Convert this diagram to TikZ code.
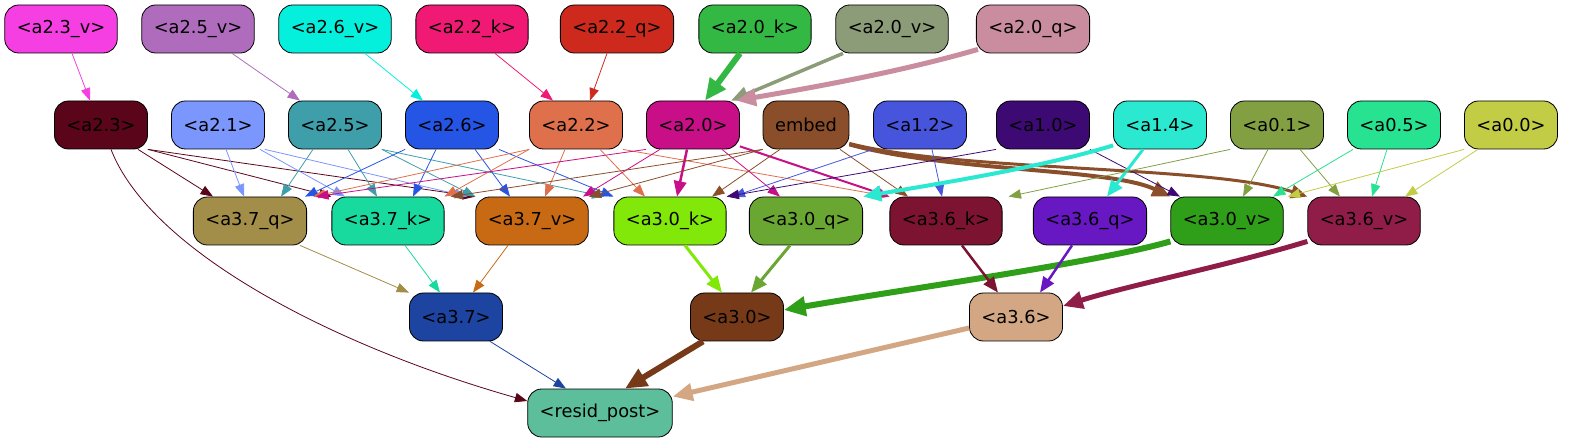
\documentclass[tikz,border=0pt]{standalone}
\usepackage{fontspec}
\setmainfont{DejaVu Sans}
\usepackage{tikz}
\usetikzlibrary{arrows.meta}

\definecolor{c23v}{HTML}{F53FE3}
\definecolor{c25v}{HTML}{B06CBC}
\definecolor{c26v}{HTML}{05F0DC}
\definecolor{c22k}{HTML}{F01A74}
\definecolor{c22q}{HTML}{CD2A1D}
\definecolor{c20k}{HTML}{33B844}
\definecolor{c20v}{HTML}{8C9B78}
\definecolor{c20q}{HTML}{C98D9F}
\definecolor{c23}{HTML}{5A0519}
\definecolor{c21}{HTML}{7B96FC}
\definecolor{c25}{HTML}{3E9EAA}
\definecolor{c26}{HTML}{2555E4}
\definecolor{c22}{HTML}{DF704C}
\definecolor{c20}{HTML}{C80F88}
\definecolor{cemb}{HTML}{8A4E2B}
\definecolor{c12}{HTML}{4755DD}
\definecolor{c10}{HTML}{3D0A74}
\definecolor{c14}{HTML}{2AE9D0}
\definecolor{c01}{HTML}{82A042}
\definecolor{c05}{HTML}{26E291}
\definecolor{c00}{HTML}{C2CC44}
\definecolor{c37q}{HTML}{A28D49}
\definecolor{c37k}{HTML}{18DA9E}
\definecolor{c37v}{HTML}{C86A14}
\definecolor{c30k}{HTML}{82E80A}
\definecolor{c30q}{HTML}{6AA732}
\definecolor{c36k}{HTML}{7C1330}
\definecolor{c36q}{HTML}{6718C3}
\definecolor{c30v}{HTML}{2F9E18}
\definecolor{c36v}{HTML}{8F1D48}
\definecolor{c37}{HTML}{1D44A1}
\definecolor{c30}{HTML}{763A18}
\definecolor{c36}{HTML}{D3A783}
\definecolor{cres}{HTML}{5DBE9B}

\tikzset{
	box/.style={draw=black, line width=0.8pt, rounded corners=14pt, minimum height=48pt, inner xsep=12pt, inner ysep=0pt, font=\fontsize{17.8}{21}\selectfont},
	conn/.style={-{Triangle[length=11pt 1.8,width=8pt 1.8]}, line width=0.8pt}
}

\begin{document}
\begin{tikzpicture}[x=1pt,y=-1pt]
					
					\useasboundingbox (0,0) rectangle (1571,443);
					
					\node[box, fill=c23v] (a23v) at (61,29) {<a2.3\_v>};
					\node[box, fill=c25v] (a25v) at (198,29) {<a2.5\_v>};
					\node[box, fill=c26v] (a26v) at (335,29) {<a2.6\_v>};
					\node[box, fill=c22k] (a22k) at (472,29) {<a2.2\_k>};
					\node[box, fill=c22q] (a22q) at (617,29) {<a2.2\_q>};
					\node[box, fill=c20k] (a20k) at (755,29) {<a2.0\_k>};
					\node[box, fill=c20v] (a20v) at (892,29) {<a2.0\_v>};
					\node[box, fill=c20q] (a20q) at (1033,29) {<a2.0\_q>};
					
					\node[box, fill=c23] (a23) at (101,125) {<a2.3>};
					\node[box, fill=c21] (a21) at (218,125) {<a2.1>};
					\node[box, fill=c25] (a25) at (335,125) {<a2.5>};
					\node[box, fill=c26] (a26) at (452,125) {<a2.6>};
					\node[box, fill=c22] (a22) at (576,125) {<a2.2>};
					\node[box, fill=c20] (a20) at (693,125) {<a2.0>};
					\node[box, fill=cemb] (emb) at (806,125) {embed};
					\node[box, fill=c12] (a12) at (920,125) {<a1.2>};
					\node[box, fill=c10] (a10) at (1043,125) {<a1.0>};
					\node[box, fill=c14] (a14) at (1160,125) {<a1.4>};
					\node[box, fill=c01] (a01) at (1277,125) {<a0.1>};
					\node[box, fill=c05] (a05) at (1394,125) {<a0.5>};
					\node[box, fill=c00] (a00) at (1511,125) {<a0.0>};
					
					\node[box, fill=c37q] (a37q) at (250,221) {<a3.7\_q>};
					\node[box, fill=c37k] (a37k) at (388,221) {<a3.7\_k>};
					\node[box, fill=c37v] (a37v) at (532,221) {<a3.7\_v>};
					\node[box, fill=c30k] (a30k) at (670,221) {<a3.0\_k>};
					\node[box, fill=c30q] (a30q) at (806,221) {<a3.0\_q>};
					\node[box, fill=c36k] (a36k) at (946,221) {<a3.6\_k>};
					\node[box, fill=c36q] (a36q) at (1090,221) {<a3.6\_q>};
					\node[box, fill=c30v] (a30v) at (1227,221) {<a3.0\_v>};
					\node[box, fill=c36v] (a36v) at (1364,221) {<a3.6\_v>};
					
					\node[box, fill=c37] (a37) at (456,317) {<a3.7>};
					\node[box, fill=c30] (a30) at (737,317) {<a3.0>};
					\node[box, fill=c36] (a36) at (1016,317) {<a3.6>};
					
					\node[box, fill=cres] (resid) at (600,413) {<resid\_post>};
					
					\draw[conn,c23v] ([xshift=11pt]a23v.south) -- ([xshift=-11pt]a23.north);
					\draw[conn,c25v] ([xshift=34pt]a25v.south) -- ([xshift=-35pt]a25.north);
					\draw[conn,c26v] ([xshift=30pt]a26v.south) -- ([xshift=-29pt]a26.north);
					\draw[conn,c22k] ([xshift=23pt]a22k.south) -- ([xshift=-23pt]a22.north);
					\draw[conn,c22q] ([xshift=-10pt]a22q.south) -- ([xshift=14pt]a22.north);
					\draw[conn,c20k,line width=6pt] ([xshift=-15pt]a20k.south) -- ([xshift=12pt]a20.north);
					\draw[conn,c20v,line width=3.5pt] ([xshift=-49pt]a20v.south) -- ([xshift=38pt]a20.north);
					\draw[conn,c20q,line width=5pt] ([xshift=-55pt,yshift=4pt]a20q.south) .. controls (900,72) and (810,88) .. ([xshift=43pt]a20.north);
					
					\draw[conn,c23] ([xshift=37pt]a23.south) -- ([xshift=-37pt]a37q.north);
					\draw[conn,c23] (a23.south east) -- (a37k.north west);
					\draw[conn,c23] (a23.south east) -- (a37v.north west);
					\draw[conn,c23] ([xshift=10pt]a23.south) .. controls (150,250) and (330,345) .. ([yshift=12pt]resid.west);
					
					\draw[conn,c21] ([xshift=8pt]a21.south) -- ([xshift=-6pt]a37q.north);
					\draw[conn,c21] ([xshift=42pt]a21.south) -- ([xshift=-43pt]a37k.north);
					\draw[conn,c21] (a21.south east) -- ([xshift=-8pt]a37v.north west);
					
					\draw[conn,c25] ([xshift=-22pt]a25.south) -- ([xshift=31pt]a37q.north);
					\draw[conn,c25] ([xshift=13pt]a25.south) -- ([xshift=-11pt]a37k.north);
					\draw[conn,c25] (a25.south east) -- (a37v.north west);
					\draw[conn,c25] (a25.south east) -- ([xshift=-9pt]a30k.north west);
					
					\draw[conn,c26] (a26.south west) -- ([xshift=-2pt]a37q.north east);
					\draw[conn,c26] ([xshift=-16pt]a26.south) -- ([xshift=25pt]a37k.north);
					\draw[conn,c26] ([xshift=23pt]a26.south) -- ([xshift=-22pt]a37v.north);
					\draw[conn,c26] (a26.south east) -- (a30k.north west);
					
					\draw[conn,c22] (a22.south west) -- ([xshift=6pt]a37q.north east);
					\draw[conn,c22] (a22.south west) -- (a37k.north east);
					\draw[conn,c22] ([xshift=-11pt]a22.south) -- ([xshift=13pt]a37v.north);
					\draw[conn,c22] ([xshift=24pt]a22.south) -- ([xshift=-25pt]a30k.north);
					\draw[conn,c22] (a22.south east) -- (a36k.north west);
					
					\draw[conn,c20] (a20.south west) -- ([xshift=9pt]a37q.north east);
					\draw[conn,c20] ([xshift=-33pt]a20.south) -- ([xshift=51pt]a37v.north);
					\draw[conn,c20,line width=2.5pt] ([xshift=-6pt]a20.south) -- ([xshift=7pt]a30k.north);
					\draw[conn,c20] ([xshift=29pt]a20.south) -- ([xshift=-26pt]a30q.north);
					\draw[conn,c20,line width=2pt] ([yshift=3pt]a20.south east) -- (a36k.north west);
					
					\draw[conn,cemb] (emb.south west) -- ([xshift=6pt]a37k.north east);
					\draw[conn,cemb] (emb.south west) -- (a37v.north east);
					\draw[conn,cemb] ([xshift=-26pt]emb.south) -- ([xshift=42pt]a30k.north);
					\draw[conn,cemb] ([xshift=34pt]emb.south) -- ([xshift=-38pt]a36k.north);
					\draw[conn,cemb,line width=4pt] ([yshift=5pt]emb.south east) .. controls (950,172) and (1110,168) .. (a30v.north west);
					\draw[conn,cemb,line width=3pt] ([yshift=6pt]emb.south east) .. controls (960,172) and (1210,165) .. (a36v.north west);
					
					\draw[conn,c12] (a12.south west) -- ([xshift=6pt]a30k.north east);
					\draw[conn,c12] ([xshift=12pt]a12.south) -- ([xshift=-4pt]a36k.north);
					
					\draw[conn,c10] (a10.south west) -- (a30k.north east);
					\draw[conn,c10] (a10.south east) -- ([xshift=-47pt]a30v.north);
					
					\draw[conn,c14,line width=4pt] ([yshift=4pt]a14.south west) .. controls (1040,168) and (930,185) .. (a30q.north east);
					\draw[conn,c14,line width=3pt] ([xshift=-17pt]a14.south) -- ([xshift=17pt]a36q.north);
					
					\draw[conn,c01] (a01.south west) -- ([xshift=6pt]a36k.north east);
					\draw[conn,c01] ([xshift=-9pt]a01.south) -- ([xshift=16pt]a30v.north);
					\draw[conn,c01] ([xshift=23pt]a01.south) -- ([xshift=-24pt]a36v.north);
					
					\draw[conn,c05] ([xshift=-41pt]a05.south) -- ([xshift=46pt]a30v.north);
					\draw[conn,c05] ([xshift=-7pt]a05.south) -- ([xshift=8pt]a36v.north);
					
					\draw[conn,c00] (a00.south west) -- ([xshift=4pt]a30v.north east);
					\draw[conn,c00] ([xshift=-33pt]a00.south) -- ([xshift=41pt]a36v.north);
					
					\draw[conn,c37q] ([xshift=50pt]a37q.south) -- (a37.north west);
					\draw[conn,c37k] ([xshift=17pt]a37k.south) -- ([xshift=-16pt]a37.north);
					\draw[conn,c37v] ([xshift=-24pt]a37v.south) -- ([xshift=17pt]a37.north);
					\draw[conn,c30k,line width=3pt] ([xshift=15pt]a30k.south) -- ([xshift=-15pt]a30.north);
					\draw[conn,c30q,line width=3pt] ([xshift=-16pt]a30q.south) -- ([xshift=14pt]a30.north);
					\draw[conn,c30v,line width=6pt] ([yshift=4pt]a30v.south west) .. controls (1100,262) and (900,290) .. ([yshift=7pt]a30.east);
					\draw[conn,c36k,line width=2.5pt] ([xshift=16pt]a36k.south) -- ([xshift=-18pt]a36.north);
					\draw[conn,c36q,line width=2.5pt] ([xshift=-18pt]a36q.south) -- ([xshift=24pt]a36.north);
					\draw[conn,c36v,line width=5pt] ([yshift=4pt]a36v.south west) .. controls (1230,265) and (1130,285) .. ([yshift=11pt]a36.east);
					
					\draw[conn,c37] ([xshift=34pt]a37.south) -- ([xshift=-34pt]resid.north);
					\draw[conn,c30,line width=6pt] ([xshift=-34pt]a30.south) -- ([xshift=25pt]resid.north);
					\draw[conn,c36,line width=5pt] ([yshift=-11pt]a36.west) -- ([yshift=-8pt]resid.north east);
					
\end{tikzpicture}
\end{document}
